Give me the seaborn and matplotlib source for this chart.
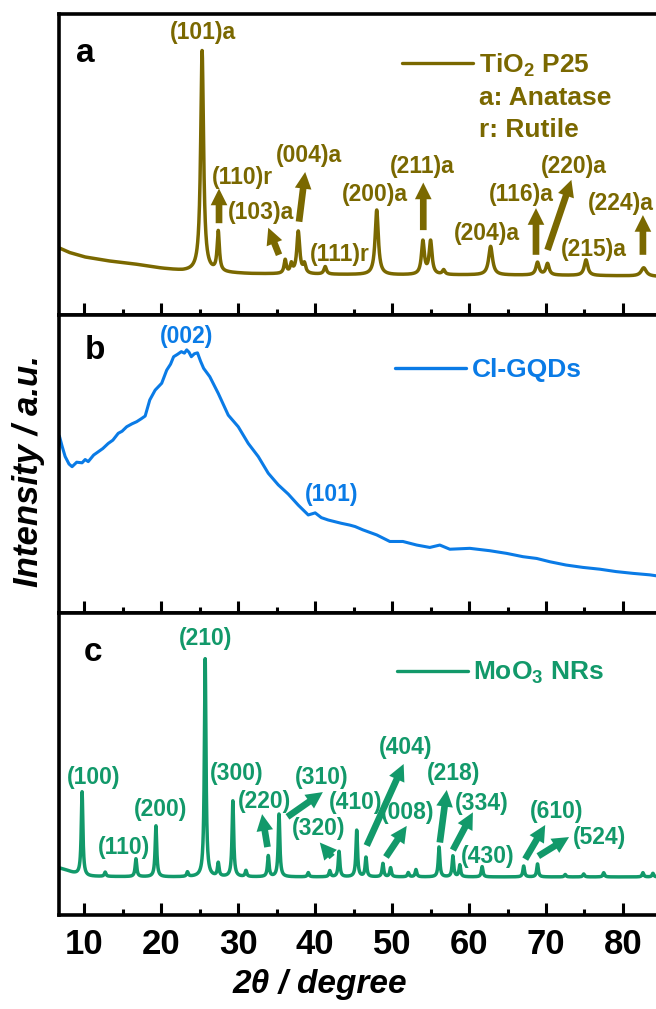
import numpy as np
import pandas as pd
import matplotlib
matplotlib.use("Agg")
import matplotlib.pyplot as plt
from matplotlib.lines import Line2D
from matplotlib.ticker import MultipleLocator
import seaborn as sns

# ---------------- data ----------------
# Panel a: TiO2 P25
tio2_base_x = [6.7, 8.0, 10.0, 13.0, 16.3, 20.0, 22.8, 26.0, 31.5, 40.0, 50.0, 60.0, 70.0, 80.0, 84.3]
tio2_base_y = [22.3, 20.8, 19.3, 18.0, 17.0, 15.5, 14.6, 14.2, 13.7, 13.5, 13.3, 13.3, 13.2, 13.0, 12.8]
tio2_peak_pos = [25.3, 27.4, 36.1, 36.9, 37.8, 38.6, 41.3, 48.0, 54.0, 55.0, 56.7, 62.8, 68.9, 70.2, 75.2, 82.7]
tio2_peak_h   = [73.5, 13.2, 4.5, 3.0, 14.0, 3.0, 2.5, 21.5, 11.0, 11.0, 1.5, 9.5, 4.2, 3.8, 5.2, 2.8]
tio2_peak_w   = [0.45, 0.35, 0.35, 0.35, 0.45, 0.4, 0.4, 0.5, 0.45, 0.45, 0.4, 0.6, 0.5, 0.5, 0.55, 0.8]

gqd_x = [6.75, 7.1, 7.5, 8.0, 8.4, 9.0, 9.7, 10.1, 10.5, 11.2, 11.8, 12.4, 13.1, 13.7, 14.4, 14.9, 15.5,
         16.2, 16.8, 17.4, 17.9, 18.5, 19.2, 20.05, 20.7, 21.2, 21.6, 22.1, 22.6, 23.0, 23.3, 23.6, 23.9,
         24.3, 24.7, 25.1, 25.5, 26.3, 27.4, 28.7, 30.0, 31.3, 32.6, 33.9, 35.2, 36.5, 37.8, 39.1, 40.0,
         40.8, 41.7, 43.4, 44.5, 45.2, 46.2, 48.0, 49.7, 51.4, 53.2, 54.9, 56.2, 57.5, 60.1, 62.7, 64.9,
         67.0, 68.8, 70.5, 72.6, 74.8, 77.0, 79.1, 81.3, 83.5, 84.3]
gqd_y = [59.4, 56.0, 52.5, 50.0, 49.1, 50.6, 50.4, 51.5, 50.8, 53.0, 54.1, 55.2, 56.9, 58.0, 60.3, 61.0, 62.5,
         63.5, 64.2, 65.2, 66.1, 71.5, 74.8, 77.1, 81.5, 83.5, 86.0, 86.8, 87.7, 87.2, 88.3, 87.5, 86.0,
         87.0, 87.3, 84.5, 82.1, 79.3, 73.7, 66.4, 62.5, 56.9, 52.5, 46.9, 43.0, 39.9, 36.2, 32.9, 33.6,
         32.0, 31.2, 30.1, 29.5, 29.0, 27.9, 26.2, 24.0, 24.0, 22.8, 22.0, 22.8, 21.4, 21.7, 20.9, 20.0,
         18.9, 18.3, 17.2, 16.1, 15.3, 14.7, 13.9, 13.3, 12.8, 12.5]

# Panel c: MoO3 NRs
moo3_base_x = [6.7, 7.5, 8.5, 10.0, 20.0, 40.0, 60.0, 84.3]
moo3_base_y = [15.6, 15.0, 14.0, 12.8, 12.6, 12.6, 12.6, 12.6]
moo3_peak_pos = [9.7, 12.7, 16.7, 19.3, 23.4, 25.7, 27.4, 29.3, 31.0, 33.9, 35.3, 39.1, 41.9, 43.1, 45.4,
                 46.6, 48.8, 49.8, 52.1, 53.1, 56.1, 57.9, 58.8, 61.7, 67.1, 68.9, 72.5, 74.9, 77.5, 82.6, 83.9]
moo3_peak_h   = [27.8, 1.4, 5.9, 16.9, 1.5, 72.2, 4.4, 25.1, 2.0, 6.9, 20.8, 1.4, 2.0, 8.4, 15.4,
                 6.4, 4.4, 3.0, 1.4, 2.4, 9.9, 6.9, 3.9, 3.4, 3.6, 4.3, 0.8, 1.0, 1.4, 1.4, 1.2]
moo3_peak_w   = [0.25] * len(moo3_peak_pos)

# Annotations: (label, text x, text y)
tio2_labels = [("(101)a", 25.4, 93.7), ("(110)r", 30.5, 45.8), ("(103)a", 33.0, 34.0),
               ("(004)a", 39.2, 53.0), ("(111)r", 43.2, 20.0), ("(200)a", 47.8, 40.0),
               ("(211)a", 53.9, 49.3), ("(204)a", 62.3, 27.1), ("(116)a", 66.8, 39.9),
               ("(220)a", 73.6, 49.3), ("(215)a", 76.2, 21.6), ("(224)a", 79.7, 37.1)]
tio2_arrows = [((27.5, 30.5), (27.5, 42.0)), ((35.3, 20.0), (33.9, 29.0)), ((37.9, 31.0), (38.7, 47.5)),
               ((54.05, 28.2), (54.05, 44.0)), ((68.7, 20.0), (68.7, 35.5)), ((70.2, 21.6), (73.3, 44.9)),
               ((82.6, 20.0), (82.6, 33.2))]
gqd_labels = [("(002)", 23.3, 92.7), ("(101)", 42.1, 39.6)]
moo3_labels = [("(100)", 11.2, 45.4), ("(110)", 15.2, 22.5), ("(200)", 19.9, 35.0), ("(210)", 25.8, 91.4),
               ("(300)", 29.8, 47.0), ("(220)", 33.4, 37.7), ("(310)", 40.9, 45.4), ("(320)", 40.4, 28.8),
               ("(410)", 45.2, 37.4), ("(404)", 51.7, 55.6), ("(008)", 52.0, 34.0), ("(218)", 58.0, 46.7),
               ("(334)", 61.6, 37.0), ("(430)", 62.4, 19.5), ("(610)", 71.4, 34.4), ("(524)", 77.0, 25.8)]
moo3_arrows = [((33.8, 22.5), (33.1, 33.4)), ((36.4, 32.5), (41.0, 40.7)), ((42.2, 19.2), (40.6, 24.0)),
               ((46.7, 23.0), (51.5, 50.0)), ((49.2, 19.2), (51.9, 29.5)), ((56.2, 24.0), (57.1, 41.4)),
               ((57.9, 21.5), (60.5, 34.0)), ((67.3, 18.5), (69.9, 29.8)), ((69.0, 19.5), (73.0, 25.8))]

xticks = [10, 20, 30, 40, 50, 60, 70, 80]
XMIN, XMAX = 6.7, 84.3

C_TIO2 = "#7a6800"
C_GQD = "#0a7be6"
C_MOO3 = "#12996a"

# ---------------- style ----------------
sns.set_theme(style="ticks")
plt.rcParams["font.family"] = ["Liberation Sans", "DejaVu Sans"]
plt.rcParams["font.weight"] = "bold"
plt.rcParams["text.color"] = "black"
plt.rcParams["axes.labelcolor"] = "black"
plt.rcParams["xtick.color"] = "black"
plt.rcParams["xtick.labelcolor"] = "black"
plt.rcParams["mathtext.fontset"] = "custom"
plt.rcParams["mathtext.rm"] = "Liberation Sans:bold"
plt.rcParams["mathtext.default"] = "rm"


def profile(grid, bx, by, pos, h, w):
    y = np.interp(grid, bx, by)
    for p, hh, ww in zip(pos, h, w):
        y = y + hh / (1.0 + ((grid - p) / (ww / 2.0)) ** 2)
    return y


grid = np.linspace(XMIN, XMAX, 5000)
df_a = pd.DataFrame({"x": grid, "y": profile(grid, tio2_base_x, tio2_base_y, tio2_peak_pos, tio2_peak_h, tio2_peak_w)})
df_b = pd.DataFrame({"x": gqd_x, "y": gqd_y})
df_c = pd.DataFrame({"x": grid, "y": profile(grid, moo3_base_x, moo3_base_y, moo3_peak_pos, moo3_peak_h, moo3_peak_w)})

fig = plt.figure(figsize=(6.56, 10.09), dpi=100)
L, W = 59 / 656, 1 - 59 / 656
ax_a = fig.add_axes([L, 1 - 315 / 1009, W, 301 / 1009])
ax_b = fig.add_axes([L, 1 - 613 / 1009, W, 298 / 1009])
ax_c = fig.add_axes([L, 1 - 915 / 1009, W, 302 / 1009])

LBL_FS = 16.5
LEG_FS = 19


def style_axis(ax, show_labels):
    ax.set_xlim(XMIN, XMAX)
    ax.set_ylim(0, 100)
    ax.set_xticks(xticks)
    ax.xaxis.set_minor_locator(MultipleLocator(5))
    ax.tick_params(axis="x", which="major", direction="in", length=9, width=2.2,
                   bottom=True, top=False, labelbottom=show_labels, labelsize=25, pad=9,
                   color="black", labelcolor="black")
    ax.tick_params(axis="x", which="minor", direction="in", length=4.5, width=2.2,
                   bottom=True, top=False, color="black")
    ax.set_yticks([])
    for s in ["left", "bottom", "top"]:
        ax.spines[s].set_linewidth(2.6)
        ax.spines[s].set_color("black")
    ax.spines["right"].set_visible(False)
    ax.set_xlabel("")
    ax.set_ylabel("")
    for t in ax.get_xticklabels():
        t.set_fontweight("bold")


def arrows(ax, lst, color):
    for tail, head in lst:
        ax.annotate("", xy=head, xytext=tail,
                    arrowprops=dict(arrowstyle="simple,head_length=0.75,head_width=0.75,tail_width=0.3",
                                    color=color, shrinkA=0, shrinkB=0, mutation_scale=16, lw=0))


def legend(ax, color, labels, x, y):
    handles = [Line2D([], [], color=color, lw=2.4)] + [Line2D([], [], color="none")] * (len(labels) - 1)
    ax.legend(handles, labels, loc="upper left", bbox_to_anchor=(x, y), frameon=False,
              handlelength=2.7, handletextpad=0.2, borderpad=0,
              borderaxespad=0, labelspacing=0.28, labelcolor=color,
              prop={"weight": "bold", "size": LEG_FS})


# Panel a
sns.lineplot(data=df_a, x="x", y="y", ax=ax_a, color=C_TIO2, lw=2.5, estimator=None, sort=False)
style_axis(ax_a, False)
for t, x, y in tio2_labels:
    ax_a.text(x, y, t, color=C_TIO2, fontsize=LBL_FS, fontweight="bold", ha="center", va="center")
arrows(ax_a, tio2_arrows, C_TIO2)
legend(ax_a, C_TIO2, ["TiO$_2$ P25", "a: Anatase", "r: Rutile"], 0.5745, 0.875)
ax_a.text(0.044, 0.87, "a", transform=ax_a.transAxes, fontsize=24, fontweight="bold",
          color="black", ha="center", va="center")

# Panel b
sns.lineplot(data=df_b, x="x", y="y", ax=ax_b, color=C_GQD, lw=2.2, estimator=None, sort=False)
style_axis(ax_b, False)
for t, x, y in gqd_labels:
    ax_b.text(x, y, t, color=C_GQD, fontsize=LBL_FS, fontweight="bold", ha="center", va="center")
legend(ax_b, C_GQD, ["Cl-GQDs"], 0.563, 0.855)
ax_b.text(0.06, 0.88, "b", transform=ax_b.transAxes, fontsize=24, fontweight="bold",
          color="black", ha="center", va="center")

# Panel c
sns.lineplot(data=df_c, x="x", y="y", ax=ax_c, color=C_MOO3, lw=2.5, estimator=None, sort=False)
style_axis(ax_c, True)
for t, x, y in moo3_labels:
    ax_c.text(x, y, t, color=C_MOO3, fontsize=LBL_FS, fontweight="bold", ha="center", va="center")
arrows(ax_c, moo3_arrows, C_MOO3)
legend(ax_c, C_MOO3, ["MoO$_3$ NRs"], 0.566, 0.845)
ax_c.text(0.057, 0.868, "c", transform=ax_c.transAxes, fontsize=24, fontweight="bold",
          color="black", ha="center", va="center")

fig.text(29 / 656, 1 - 471 / 1009, "Intensity / a.u.", rotation=90, fontsize=25,
         fontweight="bold", fontstyle="italic", ha="center", va="center", color="black")
fig.text(320 / 656, 1 - 985 / 1009, "2θ / degree", fontsize=24, fontweight="bold",
         fontstyle="italic", ha="center", va="center", color="black")

fig.savefig("out.png", dpi=100)
